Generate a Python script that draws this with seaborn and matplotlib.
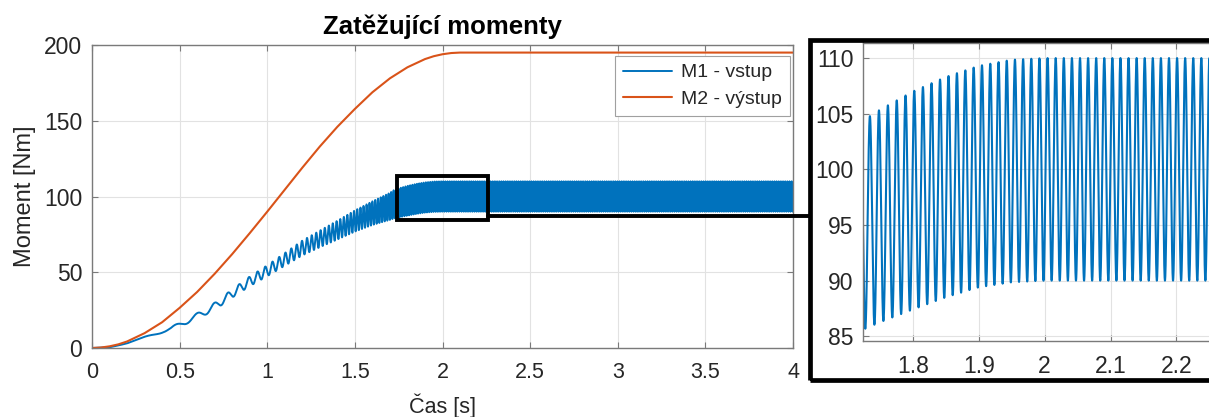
import numpy as np
import pandas as pd
import matplotlib
matplotlib.use("Agg")
import matplotlib.pyplot as plt
import seaborn as sns
from matplotlib.patches import Rectangle
from matplotlib.lines import Line2D
from matplotlib.ticker import FuncFormatter

# ---- data -------------------------------------------------------------
# Output torque M2: smooth ramp up to the rated load, then constant
m2_time = [0.0, 0.05, 0.1, 0.15, 0.2, 0.3, 0.4, 0.5, 0.6, 0.7, 0.8, 0.9, 1.0,
           1.1, 1.2, 1.3, 1.4, 1.5, 1.6, 1.7, 1.8, 1.9, 1.95, 2.0, 2.05, 2.1, 4.0]
m2_torque = [0.0, 0.3, 1.1, 2.4, 4.3, 9.8, 17.0, 26.5, 37.0, 49.0, 62.0, 75.8, 90.0,
             104.5, 119.0, 133.0, 146.0, 157.8, 168.8, 178.0, 185.3, 190.7, 192.6, 193.9, 194.7, 195.0, 195.0]

# Input torque M1: mean level and half peak-to-peak swing of the oscillation
m1_env_time = [0.0, 0.1, 0.2, 0.3, 0.4, 0.45, 0.5, 0.6, 0.7, 0.8, 0.9, 1.0, 1.1, 1.2,
               1.3, 1.4, 1.5, 1.6, 1.7, 1.725, 1.75, 1.8, 1.85, 1.9, 1.95, 2.0, 4.0]
m1_env_mean = [0.0, 0.5, 3.0, 7.0, 11.0, 12.5, 15.5, 21.0, 27.5, 36.0, 44.0, 51.0, 58.5, 66.0,
               72.0, 77.8, 83.8, 89.0, 93.5, 95.0, 95.8, 97.2, 98.4, 99.35, 99.85, 100.0, 100.0]
m1_env_half = [0.0, 0.05, 0.2, 0.5, 1.0, 1.2, 1.5, 2.0, 2.4, 2.7, 3.2, 3.6, 4.2, 4.9,
               5.5, 6.2, 7.0, 7.8, 8.9, 9.4, 9.55, 9.8, 9.9, 9.95, 10.0, 10.0, 10.0]
# Oscillation frequency of M1 [Hz]
m1_freq_time = [0.0, 0.3, 0.45, 0.55, 0.65, 0.75, 0.85, 0.95, 1.05, 1.2, 1.4, 1.6,
                1.75, 1.85, 1.95, 2.05, 4.0]
m1_freq_hz = [0.0, 3.5, 6.5, 8.0, 10.0, 13.5, 17.0, 22.0, 26.0, 34.5, 47.0, 61.0,
              73.5, 78.0, 80.5, 81.5, 81.5]
m1_peak_time = 2.0045   # one of the crests of M1

series_labels = ["M1 - vstup", "M2 - výstup"]
series_colors = ["#0072BD", "#D95319"]

title_text = "Zatěžující momenty"
xlabel_text = "Čas [s]"
ylabel_text = "Moment [Nm]"

main_xticks = [0, 0.5, 1, 1.5, 2, 2.5, 3, 3.5, 4]
main_yticks = [0, 50, 100, 150, 200]
inset_xticks = [1.8, 1.9, 2.0, 2.1, 2.2]
inset_yticks = [85, 90, 95, 100, 105, 110]

zoom_box_x = (1.74, 2.26)
zoom_box_y = (84.5, 113.7)
inset_xlim = (1.7245, 2.26)
inset_ylim = (84.6, 111.4)

# ---- build the M1 signal from its envelope and frequency ----------------
t = np.linspace(0.0, 4.0, 48001)
dt = t[1] - t[0]
freq = np.interp(t, m1_freq_time, m1_freq_hz)
phase = 2 * np.pi * np.concatenate([[0.0], np.cumsum(0.5 * (freq[1:] + freq[:-1]) * dt)])
phase += np.pi / 2 - np.interp(m1_peak_time, t, phase)
m1 = np.interp(t, m1_env_time, m1_env_mean) + np.interp(t, m1_env_time, m1_env_half) * np.sin(phase)

df_m1 = pd.DataFrame({"t": t, "M": m1})
df_m2 = pd.DataFrame({"t": m2_time, "M": m2_torque})

# ---- style --------------------------------------------------------------
sns.set_theme(style="whitegrid")
plt.rcParams["font.family"] = ["Liberation Sans", "DejaVu Sans"]
narrow = ["Liberation Sans Narrow", "Liberation Sans", "DejaVu Sans"]
TXT = "#262626"
SPINE = "#7a7a7a"
GRID = "#e2e2e2"
FS = 16.5      # y tick labels and inset tick labels
FS_X = 15.5    # main x tick labels and x label

W, H = 1209, 417
fig = plt.figure(figsize=(W / 100, H / 100), dpi=100, facecolor="white")


def px_box(left, top, right, bottom):
    return [left / W, (H - bottom) / H, (right - left) / W, (bottom - top) / H]


def style_axes(ax):
    ax.set_facecolor("white")
    for s in ax.spines.values():
        s.set_visible(True)
        s.set_color(SPINE)
        s.set_linewidth(1.0)
    ax.grid(True, color=GRID, linewidth=0.8)
    ax.tick_params(direction="in", length=4, width=0.8, color=SPINE,
                   top=True, right=True, bottom=True, left=True,
                   labelsize=FS, labelcolor=TXT)
    fmt = FuncFormatter(lambda v, p: f"{v:g}")
    ax.xaxis.set_major_formatter(fmt)
    ax.yaxis.set_major_formatter(fmt)


# ---- main axes ------------------------------------------------------------
ax = fig.add_axes(px_box(92, 45, 793, 348))
style_axes(ax)
sns.lineplot(data=df_m1, x="t", y="M", ax=ax, color=series_colors[0], linewidth=1.4,
             estimator=None, sort=False, label=series_labels[0])
sns.lineplot(data=df_m2, x="t", y="M", ax=ax, color=series_colors[1], linewidth=1.5,
             estimator=None, sort=False, label=series_labels[1])
ax.set_xlim(0, 4)
ax.set_ylim(0, 200)
ax.set_xticks(main_xticks)
ax.set_yticks(main_yticks)
ax.tick_params(axis="x", pad=10, labelsize=FS_X)
ax.tick_params(axis="y", pad=7)
for lab in ax.get_xticklabels():
    lab.set_fontfamily(narrow)
ax.get_yticklabels()[0].set_fontfamily(narrow)

ax.set_xlabel(xlabel_text, fontsize=FS_X, color=TXT, fontfamily=narrow, va="center")
ax.xaxis.set_label_coords(0.5, -0.19)
ax.set_ylabel(ylabel_text, fontsize=17, color=TXT, va="center")
ax.yaxis.set_label_coords(-0.0956, 0.5)
ax.text(0.5, 1.059, title_text, transform=ax.transAxes, ha="center", va="center",
        fontsize=18.5, fontweight="bold", color="black")

leg = ax.legend(loc="upper right", bbox_to_anchor=(0.9957, 0.9637), borderaxespad=0,
                fontsize=14, frameon=True, fancybox=False, framealpha=1,
                handlelength=2.5, handletextpad=0.5, borderpad=0.4, labelspacing=0.45)
leg.get_frame().set_edgecolor("#a0a0a0")
leg.get_frame().set_linewidth(0.8)
for txt in leg.get_texts():
    txt.set_color(TXT)

# zoom window on the main axes
ax.add_patch(Rectangle((zoom_box_x[0], zoom_box_y[0]), zoom_box_x[1] - zoom_box_x[0],
                       zoom_box_y[1] - zoom_box_y[0], fill=False, edgecolor="black",
                       linewidth=2.8, zorder=5))

# ---- inset axes -----------------------------------------------------------
axi = fig.add_axes(px_box(863, 42.5, 1216, 340.7))
style_axes(axi)
sns.lineplot(data=df_m1, x="t", y="M", ax=axi, color=series_colors[0], linewidth=1.5,
             estimator=None, sort=False, legend=False)
axi.set_xlim(*inset_xlim)
axi.set_ylim(*inset_ylim)
axi.set_xticks(inset_xticks)
axi.set_yticks(inset_yticks)
axi.tick_params(axis="x", pad=10)
axi.tick_params(axis="y", pad=7)
axi.set_xlabel("")
axi.set_ylabel("")

# thick frame around the inset and connector from the zoom window
fig.add_artist(Rectangle((810 / W, (H - 380) / H), (1260 - 810) / W, (380 - 40) / H,
                         transform=fig.transFigure, fill=False, edgecolor="black",
                         linewidth=3.4, clip_on=False, zorder=10))
fig.add_artist(Line2D([488 / W, 810 / W], [(H - 215.7) / H] * 2, transform=fig.transFigure,
                      color="black", linewidth=2.8, zorder=10))

fig.savefig("out.png", dpi=100, facecolor="white")
